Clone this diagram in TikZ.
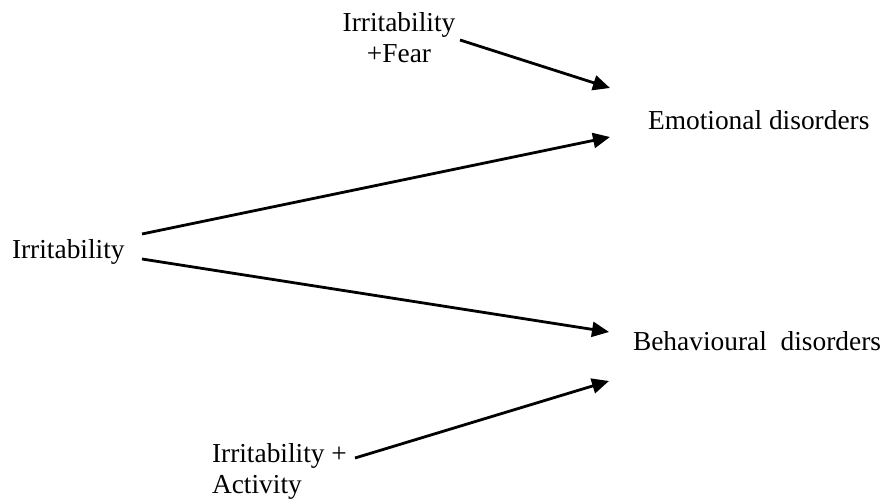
\documentclass[tikz,border=0pt]{standalone}
\usepackage{fontspec}
\setmainfont{Liberation Serif}
\usepackage{tikz}
\usetikzlibrary{arrows.meta}
\tikzstyle{term}=[inner sep=0, outer sep=0, font=\fontsize{13.7}{15.5}\selectfont]
\tikzstyle{link}=[line width=1.4pt, -{Triangle[length=8.5pt, width=7.5pt]}]
\tikzstyle{pixelgrid}=[x=0.5pt, y=-0.5pt,
                       % Fix the page to the size of the original figure.
                       execute at begin picture={\useasboundingbox (0, 0) rectangle (887, 502);}]

\begin{document}
\begin{tikzpicture}[pixelgrid]
        \node[term, anchor=base west] (irr) at (12, 258) {Irritability};
        % Two-line nodes sit on the baseline of their last line.
        \node[term, anchor=base, align=center] (fear) at (399, 63) {Irritability\\+Fear};
        \node[term, anchor=base west, align=left] (act) at (212, 493) {Irritability +\\Activity};
        \node[term, anchor=base west] (emo) at (648, 130) {Emotional disorders};
        \node[term, anchor=base west] (beh) at (633, 350) {Behavioural\ \ disorders};
        \coordinate (fearout) at (460, 40);
        \coordinate (irrup) at (142, 234);
        \coordinate (irrdown) at (142, 259);
        \coordinate (actout) at (355, 458);
        \coordinate (emoin1) at (610, 88);
        \coordinate (emoin2) at (610, 137);
        \coordinate (behin1) at (609, 332);
        \coordinate (behin2) at (609, 381);
        \draw[link] (fearout) -- (emoin1);
        \draw[link] (irrup) -- (emoin2);
        \draw[link] (irrdown) -- (behin1);
        \draw[link] (actout) -- (behin2);
    \end{tikzpicture}
\end{document}
